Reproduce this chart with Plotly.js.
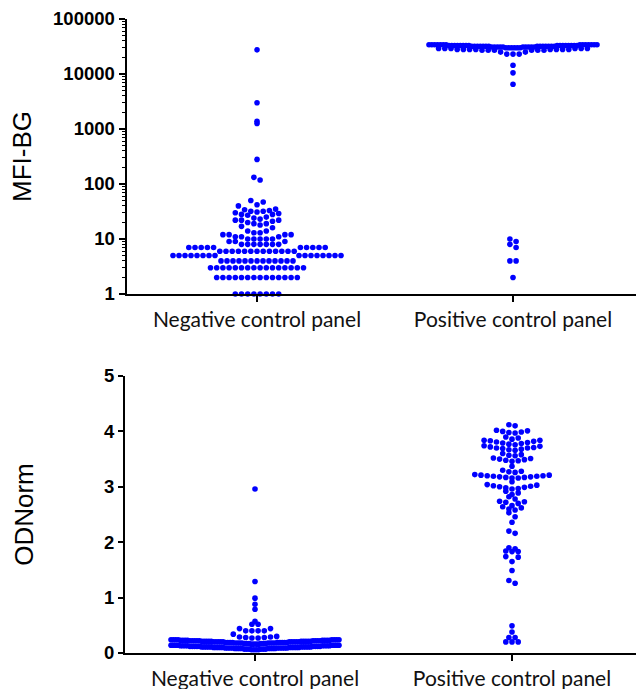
<!DOCTYPE html>
<html><head><meta charset="utf-8">
<script src="https://cdn.plot.ly/plotly-3.0.1.min.js"></script>
<style>html,body{margin:0;padding:0;background:#fff;} #chart{width:636px;height:689px;}</style>
</head><body><div id="chart"></div>
<script>
// ---------- data ----------
const categories = ['Negative control panel', 'Positive control panel'];

// MFI-BG, negative control panel: value / number of samples
const mfiNegValues = [1,2,3,4,5,6,7,8,9,10,11,12,13,14,16,17,18,19,20,21,22,23,24,25,27,28,29,30,31,32,33,34,35,40,42,47,50,118,132,280,1260,1380,3000,27500];
const mfiNegCounts = [8,14,16,13,16,13,10,7,3,5,3,4,2,2,1,1,1,2,1,1,3,1,1,1,1,2,1,1,1,2,1,1,1,1,1,1,1,1,1,1,1,1,1,1];

// MFI-BG, positive control panel
const mfiPosValues = [2,4,7,8,9,10,6500,10500,14400,23000,25000,27000,28000,29000,30000,31000,32000,33000,34000];
const mfiPosCounts = [1,2,1,1,1,1,1,1,1,3,2,6,8,6,6,10,14,16,14];

// ODNorm, negative control panel
const odnNegValues = [0.06,0.07,0.08,0.09,0.10,0.11,0.12,0.13,0.14,0.16,0.17,0.18,0.19,0.20,0.21,0.22,0.23,0.24,0.27,0.28,0.29,0.30,0.34,0.40,0.44,0.52,0.57,0.79,0.88,0.99,1.29,2.96];
const odnNegCounts = [4,6,8,9,10,10,9,8,8,4,6,8,9,10,10,9,8,8,2,2,2,1,1,4,2,2,1,1,1,1,1,1];

// ODNorm, positive control panel
const odnPosValues = [0.20,0.20,0.20,0.28,0.28,0.38,0.49,1.26,1.31,1.49,1.65,1.73,1.74,1.83,1.83,1.84,1.88,1.90,2.16,2.20,2.36,2.46,2.53,
  2.58,2.60,2.62,2.64,2.66,2.70,2.72,2.73,2.74,2.78,2.82,2.86,2.89,2.92,2.96,2.97,2.98,2.99,3.00,3.01,3.02,3.03,3.04,3.09,
  3.16,3.16,3.17,3.17,3.18,3.18,3.19,3.19,3.20,3.20,3.21,3.21,3.22,3.26,3.27,3.28,3.30,3.37,3.46,3.47,3.48,3.49,3.50,3.51,3.52,
  3.56,3.57,3.58,3.60,3.66,3.67,3.68,3.69,3.70,3.70,3.71,3.72,3.73,3.74,3.76,3.77,3.78,3.79,3.80,3.81,3.82,3.83,3.84,3.84,
  3.86,3.88,3.90,3.97,3.98,3.99,4.00,4.01,4.02,4.10,4.12];

const yTitles = ['MFI-BG', 'ODNorm'];
const mfiTickVals = [1,10,100,1000,10000,100000];
const mfiTickText = ['1','10','100','1000','10000','100000'];
const odnTickVals = [0,1,2,3,4,5];

// ---------- helpers ----------
function expand(vals, counts){ const out=[]; vals.forEach((v,i)=>{ for(let k=0;k<counts[i];k++) out.push(v); }); return out; }

// Prism-like swarm: points binned by y; within a bin sorted ascending, placed center-outward
function swarm(values, toAxis, binH, binOff, dotPx, maxWPx, pxPerX){
  const bins = new Map();
  values.forEach((v,i)=>{ const k = Math.floor((toAxis(v)-binOff)/binH + 1e-9); if(!bins.has(k)) bins.set(k,[]); bins.get(k).push(i); });
  const dx = new Array(values.length).fill(0);
  bins.forEach(idx=>{
    idx.sort((a,b)=>values[a]-values[b]);
    const n = idx.length;
    const sp = n>1 ? Math.min(dotPx, maxWPx/(n-1)) : 0;
    const slots = [];
    for(let j=0;j<n;j++) slots.push((j-(n-1)/2)*sp);
    slots.sort((a,b)=>Math.abs(a)-Math.abs(b) || b-a);
    idx.forEach((pi,j)=>{ dx[pi] = slots[j]/pxPerX; });
  });
  return dx;
}

// ---------- layout geometry ----------
const W = 636, H = 689;
const TOP = {x0:127, x1:636, y0:19, y1:294, c0:257, c1:513};
const BOT = {x0:125, x1:636, y0:376, y1:653, c0:255, c1:512};
const DOT = 6.2, MAXW = 168;
const pxTop = TOP.c1-TOP.c0, pxBot = BOT.c1-BOT.c0;

const mfiNeg = expand(mfiNegValues, mfiNegCounts);
const mfiPos = expand(mfiPosValues, mfiPosCounts);
const odnNeg = expand(odnNegValues, odnNegCounts);
const odnPos = odnPosValues.slice();

const dMfiNeg = swarm(mfiNeg, Math.log10, 0.127, 0.091, DOT, MAXW, pxTop);
const dMfiPos = swarm(mfiPos, Math.log10, 0.127, 0.151, DOT, MAXW, pxTop);
const dOdnNeg = swarm(odnNeg, v=>v, 0.1, 0.05, DOT, MAXW, pxBot);
const dOdnPos = swarm(odnPos, v=>v, 0.1, 0.05, DOT, MAXW, pxBot);

const marker = {color:'#0000FF', size:5.6, line:{width:0}};
function tr(vals, dx, cat, xa, ya){
  return {type:'scatter', mode:'markers', x: vals.map((v,i)=>cat+dx[i]), y: vals, xaxis:xa, yaxis:ya,
          marker: marker, cliponaxis:false, hoverinfo:'y', showlegend:false};
}
const data = [
  tr(mfiNeg, dMfiNeg, 0, 'x', 'y'),
  tr(mfiPos, dMfiPos, 1, 'x', 'y'),
  tr(odnNeg, dOdnNeg, 0, 'x2', 'y2'),
  tr(odnPos, dOdnPos, 1, 'x2', 'y2')
];

const tickFontY = {family:'Liberation Sans, Arial, sans-serif', size:18.5, color:'#000', weight:'bold'};
const tickFontX = {family:'Lato, Open Sans, sans-serif', size:21, color:'#111'};
const titleFont = {family:'Liberation Sans, Arial, sans-serif', size:26, color:'#000'};

function xAxis(G, anchor){
  return {domain:[G.x0/W, G.x1/W], range:[(G.x0-G.c0)/(G.c1-G.c0), (G.x1-G.c0)/(G.c1-G.c0)], anchor: anchor,
    tickvals:[0,1], ticktext:categories, showline:true, linecolor:'#000', linewidth:2, ticks:'outside', ticklen:6, tickwidth:2,
    tickcolor:'#000', showgrid:false, zeroline:false, tickfont:tickFontX, fixedrange:true};
}
const layout = {
  width:W, height:H, margin:{l:0,r:0,t:0,b:0}, paper_bgcolor:'#fff', plot_bgcolor:'#fff', showlegend:false,
  xaxis: xAxis(TOP, 'y'),
  xaxis2: xAxis(BOT, 'y2'),
  yaxis: {domain:[(H-TOP.y1)/H, (H-TOP.y0)/H], type:'log', range:[0,5], anchor:'x', tickvals:mfiTickVals, ticktext:mfiTickText,
    showline:true, linecolor:'#000', linewidth:2.5, ticks:'outside', ticklen:6, tickwidth:2, tickcolor:'#000', showgrid:false, zeroline:false,
    minor:{ticks:'outside', ticklen:3, tickwidth:1.2, tickcolor:'#000', dtick:'D1', showgrid:false},
    tickfont:tickFontY, title:{text:yTitles[0], font:titleFont, standoff:14}},
  yaxis2: {domain:[(H-BOT.y1)/H, (H-BOT.y0)/H], range:[0,5], anchor:'x2', tickvals:odnTickVals,
    showline:true, linecolor:'#000', linewidth:2, ticks:'outside', ticklen:5, tickwidth:2, tickcolor:'#000', showgrid:false, zeroline:false,
    tickfont:tickFontY, title:{text:yTitles[1], font:titleFont, standoff:63}}
};
Plotly.newPlot('chart', data, layout, {staticPlot:true, displayModeBar:false});
</script></body></html>
